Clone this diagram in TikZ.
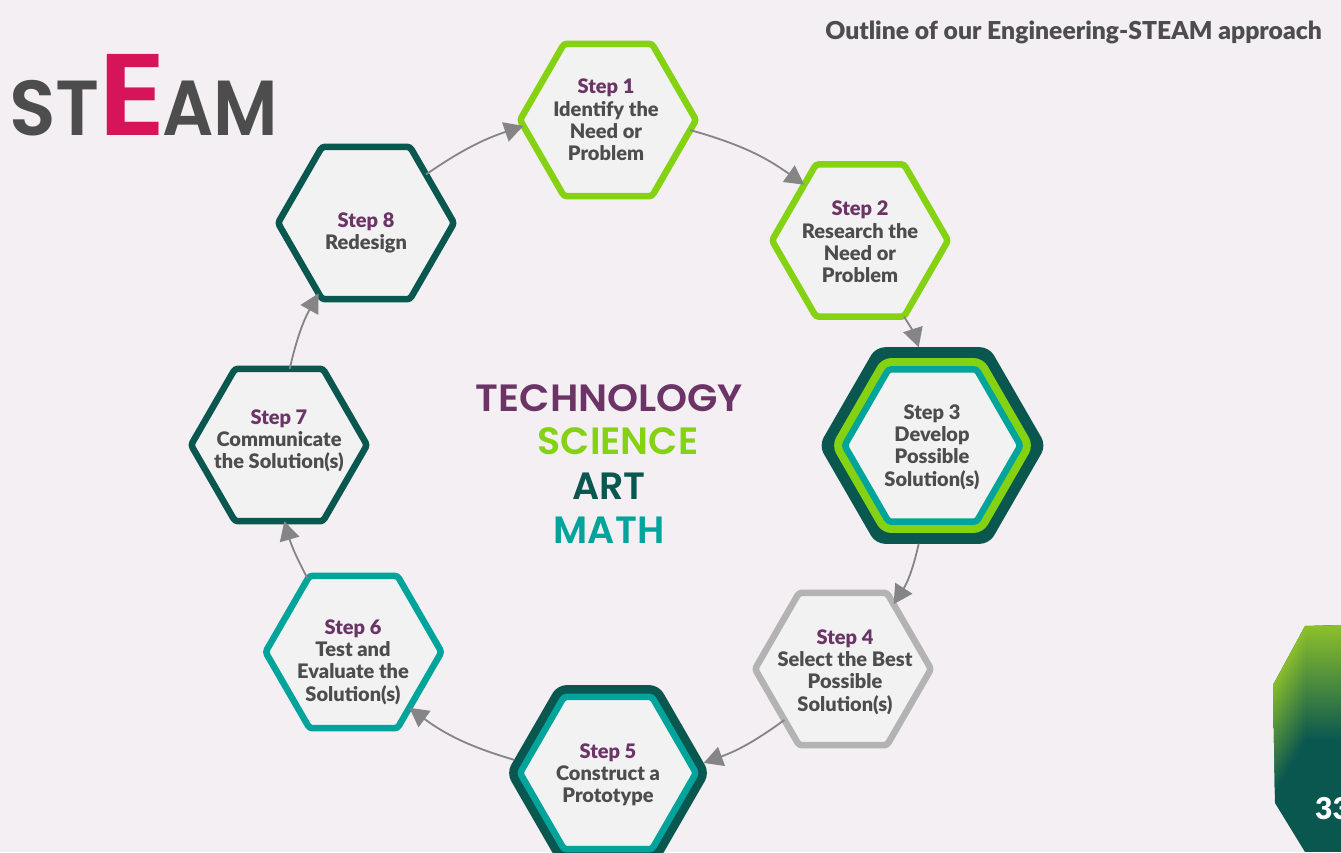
\documentclass[tikz,border=0pt]{standalone}
\usepackage{fontspec}
\setmainfont{Lato}[BoldFont={Lato Black}]
\newfontfamily\headf{Poppins SemiBold}
\usetikzlibrary{shapes.geometric,arrows.meta}
\definecolor{bgc}{HTML}{F3EFF3}
\definecolor{fillc}{HTML}{F2F2F2}
\definecolor{limec}{HTML}{84D212}
\definecolor{tealc}{HTML}{00A49A}
\definecolor{darkc}{HTML}{0A5750}
\definecolor{purpc}{HTML}{6C3466}
\definecolor{textc}{HTML}{4D4D4D}
\definecolor{silvc}{HTML}{B3B3B3}
\definecolor{arrc}{HTML}{858585}
\definecolor{magc}{HTML}{D5145A}
\definecolor{gradc}{HTML}{8EC02B}
\tikzset{
  x=1pt,y=-1pt,
  hexa/.style={regular polygon,regular polygon sides=6,inner sep=0pt,outer sep=0pt,minimum size=176pt,
     line width=6.5pt,rounded corners=3pt,fill=fillc,draw=#1},
  hexb/.style={regular polygon,regular polygon sides=6,inner sep=0pt,outer sep=0pt,minimum size=#1,rounded corners=9pt},
  steptext/.style={align=center,font=\bfseries\fontsize{20}{22.2}\selectfont,text=textc,inner sep=0pt},
  bigword/.style={font=\headf\fontsize{38}{40}\selectfont,inner sep=0pt},
  link/.style={draw=arrc,line width=1.8pt,-{Triangle[length=19pt,width=20pt]}},
}
\newcommand{\stp}[1]{\textcolor{purpc}{Step #1}}
\begin{document}
\begin{tikzpicture}
\useasboundingbox (0,0) rectangle (1341,852);
\clip (0,0) rectangle (1341,852);
\fill[bgc] (0,0) rectangle (1341,852);
% corner shape
\begin{scope}
\clip (1305,626) -- (1341,625) -- (1341,852) -- (1305,852) -- (1275,803) -- (1273,685) -- cycle;
\fill[darkc] (1270,620) rectangle (1341,852);
\shade[top color=gradc,bottom color=darkc] (1304.5,625) rectangle (1341,740);
\foreach \xx in {1271,1273,...,1305}{
  \pgfmathsetmacro{\yd}{790-(\xx-1275)*50/30}
  \pgfmathsetmacro{\yt}{\yd-115}
  \shade[top color=gradc,bottom color=darkc] (\xx,\yt) rectangle (\xx+2.4,\yd);
}
\end{scope}
\node[anchor=base west,inner sep=0pt,text=white,font=\bfseries\fontsize{30}{30}\selectfont] (pg) at (1315,819) {33};
% logo
\node[anchor=base west,inner sep=0pt,text=textc,font=\headf\fontsize{78}{80}\selectfont] (logoa) at (9,135) {\scalebox{0.98}[1]{ST}};
\node[anchor=base west,inner sep=0pt,text=magc,font=\headf\fontsize{116}{116}\selectfont] (logob) at (98,135) {\scalebox{1.1}[1]{E}};
\node[anchor=base west,inner sep=0pt,text=textc,font=\headf\fontsize{78}{80}\selectfont] (logoc) at (162,135) {\scalebox{0.92}[1]{AM}};
% title
\node[anchor=base east,inner sep=0pt,text=textc,font=\bfseries\fontsize{24.7}{25}\selectfont] (title) at (1322,39) {Outline of our Engineering-STEAM approach};
% centre words
\node[bigword,text=purpc] (w1) at (609.5,398) {\scalebox{1.04}[1]{TECHNOLOGY}};
\node[bigword,text=limec] (w2) at (618,441) {SCIENCE};
\node[bigword,text=darkc] (w3) at (609,486) {ART};
\node[bigword,text=tealc] (w4) at (609,530) {MATH};
% hexagons
\node[hexa=limec] (s1) at (608,120) {};
\node[hexa=limec] (s2) at (860,240.5) {};
\node[hexb=227pt,fill=darkc] (s3) at (932.5,445.5) {};
\node[hexb=202pt,fill=limec] (s3g) at (932.5,445.5) {};
\node[hexa=tealc] (s3t) at (932.5,445.5) {};
\node[hexa=silvc] (s4) at (843,669) {};
\node[hexb=203pt,fill=darkc] (s5) at (608,773) {};
\node[hexa=tealc] (s5t) at (608,773) {};
\node[hexa=tealc] (s6) at (353.5,652) {};
\node[hexa=darkc] (s7) at (279,445) {};
\node[hexa=darkc] (s8) at (366,223) {};
% labels
\node[steptext] (t1) at (606,120) {\stp{1}\\Identify the\\Need or\\Problem};
\node[steptext] (t2) at (860,242) {\stp{2}\\Research the\\Need or\\Problem};
\node[steptext] (t3) at (932,447) {Step 3\\Develop\\Possible\\Solution(s)};
\node[steptext] (t4) at (845,672) {\stp{4}\\Select the Best\\Possible\\Solution(s)};
\node[steptext] (t5) at (608,775) {\stp{5}\\Construct a\\Prototype};
\node[steptext] (t6) at (353,662) {\stp{6}\\Test and\\Evaluate the\\Solution(s)};
\node[steptext] (t7) at (279,441) {\stp{7}\\Communicate\\the Solution(s)};
\node[steptext] (t8) at (366,233) {\stp{8}\\Redesign};
% connectors
\draw[link] (s1.-7) to[bend left=10] (s2.135);
\draw[link] (s2.-60) to[bend left=8] (s3.98.5);
\draw[link] (s3.-98.4) to[bend left=10] (s4.52.5);
\draw[link] (s4.221.4) to[bend left=8] (s5.6.6);
\draw[link] (s5.172) to[bend left=10] (s6.-45);
\draw[link] (s6.122) to[bend left=6] (s7.-86);
\draw[link] (s7.82) to[bend left=8] (s8.-124.5);
\draw[link] (s8.39.4) to[bend left=8] (s1.184.5);
\end{tikzpicture}
\end{document}
